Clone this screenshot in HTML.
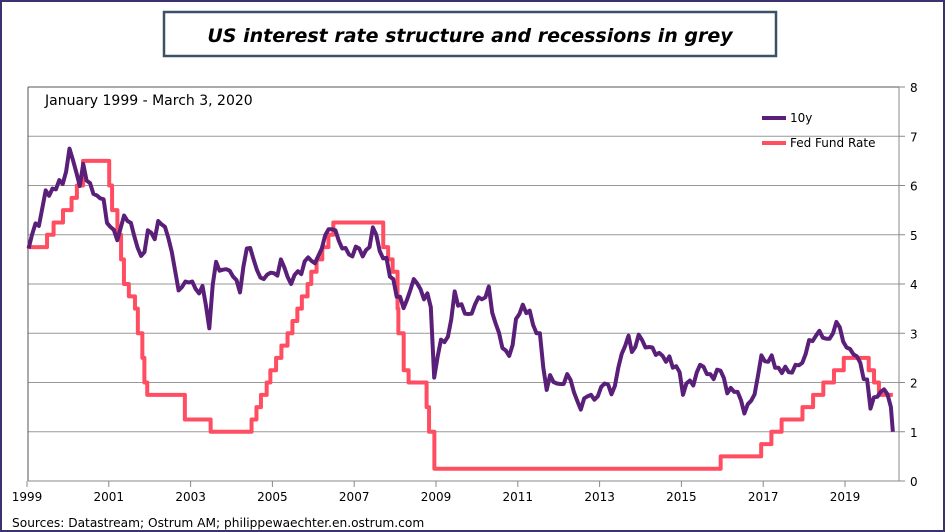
<!DOCTYPE html>
<html><head><meta charset="utf-8"><style>
body{margin:0;background:#fff;}
#wrap{position:relative;width:945px;height:532px;overflow:hidden;font-family:"DejaVu Sans","Liberation Sans",sans-serif;}
</style></head><body>
<div id="wrap">
<svg id="svg" width="945" height="532">
<rect x="1" y="1" width="943" height="530" fill="#fff" stroke="#3b3270" stroke-width="2"/>
<rect x="164" y="12" width="612" height="44" fill="#fff" stroke="#3d5166" stroke-width="2.5"/>
<text x="470" y="42" text-anchor="middle" font-size="19" font-weight="bold" font-style="italic" fill="#000">US interest rate structure and recessions  in grey</text>
<g id="grid"></g>
<line x1="28" y1="87" x2="899" y2="87" stroke="#555" stroke-width="1"/>
<line x1="28" y1="87" x2="28" y2="481" stroke="#555" stroke-width="1"/>
<line x1="899" y1="87" x2="899" y2="481" stroke="#888" stroke-width="1"/>
<line x1="28" y1="481" x2="899" y2="481" stroke="#888" stroke-width="1"/>
<text x="45" y="105" font-size="14" fill="#000">January 1999 - March 3, 2020</text>
<g id="series"></g>
<g id="axes"></g>
<line x1="762" y1="118" x2="786" y2="118" stroke="#5a1f78" stroke-width="4"/>
<text x="790" y="122" font-size="12">10y</text>
<line x1="762" y1="143" x2="786" y2="143" stroke="#ff4d62" stroke-width="4"/>
<text x="790" y="147" font-size="12">Fed Fund Rate</text>
<text x="12" y="527" font-size="12.2">Sources: Datastream;  Ostrum  AM;  philippewaechter.en.ostrum.com</text>
</svg></div>
<script>
const yTicks=[0,1,2,3,4,5,6,7,8];
const xTickYears=[1999,2001,2003,2005,2007,2009,2011,2013,2015,2017,2019];
const tenYearMonthly=[
4.72,5.00,5.23,5.18,5.54,5.90,5.79,5.94,5.92,6.11,6.03,6.28,
6.75,6.52,6.26,5.99,6.44,6.10,6.05,5.83,5.80,5.74,5.72,5.24,
5.16,5.10,4.89,5.14,5.39,5.28,5.24,4.97,4.73,4.57,4.65,5.09,
5.04,4.91,5.28,5.21,5.16,4.93,4.65,4.26,3.87,3.94,4.05,4.03,
4.05,3.90,3.81,3.96,3.57,3.10,3.98,4.45,4.27,4.29,4.30,4.27,
4.15,4.08,3.83,4.35,4.72,4.73,4.50,4.28,4.13,4.10,4.19,4.23,
4.22,4.17,4.50,4.34,4.14,4.00,4.18,4.26,4.20,4.46,4.54,4.47,
4.42,4.57,4.72,4.99,5.11,5.11,5.09,4.88,4.72,4.73,4.60,4.56,
4.76,4.72,4.56,4.69,4.75,5.15,5.00,4.67,4.52,4.53,4.15,4.10,
3.74,3.74,3.51,3.68,3.88,4.10,4.01,3.89,3.69,3.81,3.53,2.10,
2.52,2.87,2.82,2.93,3.29,3.85,3.56,3.59,3.40,3.39,3.40,3.59,
3.73,3.69,3.73,3.95,3.42,3.20,3.01,2.70,2.65,2.54,2.76,3.29,
3.39,3.58,3.41,3.46,3.17,3.00,3.00,2.30,1.85,2.15,2.01,1.98,
1.97,1.97,2.17,2.05,1.80,1.62,1.45,1.68,1.72,1.75,1.65,1.72,
1.91,1.98,1.96,1.76,1.93,2.30,2.58,2.74,2.95,2.62,2.72,2.97,
2.86,2.71,2.72,2.71,2.56,2.60,2.54,2.42,2.53,2.30,2.33,2.21,
1.75,1.98,2.04,1.94,2.20,2.36,2.32,2.17,2.17,2.07,2.26,2.24,
2.09,1.78,1.89,1.81,1.81,1.64,1.37,1.56,1.63,1.76,2.14,2.55,
2.43,2.42,2.55,2.30,2.30,2.19,2.32,2.21,2.20,2.36,2.35,2.40,
2.58,2.86,2.84,2.95,3.05,2.91,2.89,2.89,3.00,3.23,3.12,2.83,
2.71,2.68,2.57,2.53,2.40,2.07,2.06,1.47,1.70,1.71,1.81,1.86,
1.76,1.50];
const tenYearLast={date:2020.17,value:1.00};
const ffrDates=[1999.0,1999.49,1999.65,1999.88,2000.09,2000.22,2000.37,2001.01,2001.08,2001.21,2001.3,2001.37,2001.49,2001.64,2001.71,2001.82,2001.87,2001.94,2002.86,2003.49,2004.49,2004.61,2004.72,2004.86,2004.95,2005.09,2005.22,2005.37,2005.49,2005.61,2005.72,2005.86,2005.95,2006.08,2006.22,2006.37,2006.49,2007.71,2007.83,2007.94,2008.06,2008.08,2008.21,2008.33,2008.77,2008.83,2008.96,2015.96,2016.95,2017.2,2017.45,2017.96,2018.22,2018.47,2018.73,2018.97,2019.58,2019.71,2019.83];
const ffrValues=[4.75,5.0,5.25,5.5,5.75,6.0,6.5,6.0,5.5,5.0,4.5,4.0,3.75,3.5,3.0,2.5,2.0,1.75,1.25,1.0,1.25,1.5,1.75,2.0,2.25,2.5,2.75,3.0,3.25,3.5,3.75,4.0,4.25,4.5,4.75,5.0,5.25,4.75,4.5,4.25,3.5,3.0,2.25,2.0,1.5,1.0,0.25,0.5,0.75,1.0,1.25,1.5,1.75,2.0,2.25,2.5,2.25,2.0,1.75];
const ffrEnd=2020.17;

const X0=27,PXY=40.9,Y0=481,PXU=49.25;
const xs=d=>X0+(d-1999)*PXY;
const ys=v=>Y0-v*PXU;
const NS='http://www.w3.org/2000/svg';
function mk(tag,attrs,parent){const e=document.createElementNS(NS,tag);for(const k in attrs)e.setAttribute(k,attrs[k]);parent.appendChild(e);return e;}
const grid=document.getElementById('grid'),axes=document.getElementById('axes'),series=document.getElementById('series');
yTicks.forEach(t=>{
  if(t>0&&t<8){const l=mk('line',{x1:28,x2:899,y1:ys(t),y2:ys(t),stroke:'#999','stroke-width':1},grid);
  
  }
  const tk=mk('line',{x1:899,x2:905,y1:ys(t),y2:ys(t),stroke:'#888'},axes);
  
  
  const tx=mk('text',{x:910,y:ys(t)+5,'font-size':12},axes);tx.textContent=t;
  
  
});
xTickYears.forEach(yr=>{
  const tk=mk('line',{x1:xs(yr),x2:xs(yr),y1:481,y2:487,stroke:'#888'},axes);
  
  
  const tx=mk('text',{x:xs(yr),y:501,'font-size':12,'text-anchor':'middle'},axes);tx.textContent=yr;
  
  
});
let d='';
ffrDates.forEach((dt,i)=>{
  const x=xs(dt),y=ys(ffrValues[i]);
  if(i===0)d+='M'+x+','+y;else d+='L'+x+','+ys(ffrValues[i-1])+'L'+x+','+y;
});
d+='L'+xs(ffrEnd)+','+ys(ffrValues[ffrValues.length-1]);
const fp=mk('path',{d:d,fill:'none',stroke:'#ff4d62','stroke-width':4,'stroke-linejoin':'round'},series);


let d2='';
tenYearMonthly.forEach((v,i)=>{const x=xs(1999+i/12+0.04),y=ys(v);d2+=(i?'L':'M')+x.toFixed(1)+','+y.toFixed(1);});
d2+='L'+xs(tenYearLast.date)+','+ys(tenYearLast.value);
const tp=mk('path',{d:d2,fill:'none',stroke:'#5a1f78','stroke-width':4,'stroke-linejoin':'round'},series);


</script>
</body></html>
